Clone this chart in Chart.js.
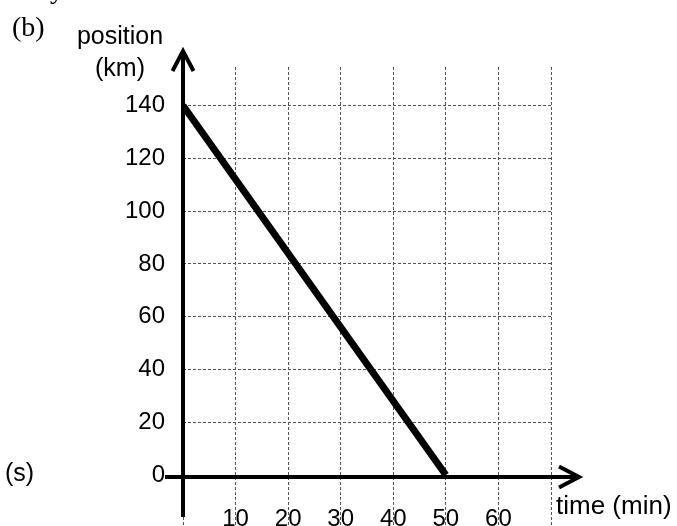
<!DOCTYPE html>
<html>
<head>
<meta charset="utf-8">
<script src="https://cdn.jsdelivr.net/npm/chart.js@4"></script>
<style>
  body { margin: 0; background: #fff; }
  #wrap { position: relative; width: 677px; height: 526px; overflow: hidden; }
  canvas { position: absolute; left: 0; top: 0; }
  .lbl { position: absolute; white-space: nowrap; color: #000; line-height: 1; }
  .sans { font-family: "Liberation Sans", Arial, sans-serif; font-size: 25px; }
  .serif { font-family: "Liberation Serif", "Times New Roman", serif; font-size: 28px; }
</style>
</head>
<body>
<div id="wrap">
  <canvas id="chart" width="677" height="526"></canvas>
  <div class="lbl serif" style="left:50px; top:-25px;">y</div>
  <div class="lbl serif" style="left:12px; top:13px;">(b)</div>
  <div class="lbl sans" style="left:20px; top:23px; width:200px; text-align:center;">position</div>
  <div class="lbl sans" style="left:20px; top:55px; width:200px; text-align:center;">(km)</div>
  <div class="lbl sans" style="left:5px; top:460px;">(s)</div>
  <div class="lbl sans" style="left:556px; top:492px; font-size:26px;">time (min)</div>
</div>
<script>
/* data */
const time = [0, 50];
const position = [140, 0];

const timeTicks = [0, 10, 20, 30, 40, 50, 60, 70];
const timeLabels = ["", "10", "20", "30", "40", "50", "60", ""];
const posTicks = [0, 20, 40, 60, 80, 100, 120, 140];
const posLabels = ["0", "20", "40", "60", "80", "100", "120", "140"];

const tickFont = { family: "'Liberation Sans', Arial, sans-serif", size: 24 };
const gridStyle = { color: "#555", lineWidth: 1, drawTicks: false };
const gridBorder = { display: false, dash: [3, 2] };

/* thick axes with open arrowheads */
const axisArrows = {
  id: "axisArrows",
  afterDraw(chart) {
    const ctx = chart.ctx;
    const area = chart.chartArea;
    const xs = chart.scales.x;
    const ys = chart.scales.y;
    const x0 = xs.getPixelForValue(0);
    const y0 = ys.getPixelForValue(0) + 2;
    ctx.save();
    ctx.strokeStyle = "#000";
    ctx.lineWidth = 4;
    ctx.lineCap = "butt";
    ctx.lineJoin = "miter";

    // horizontal axis
    const xTip = area.right + 28;
    ctx.beginPath();
    ctx.moveTo(x0 - 18, y0);
    ctx.lineTo(xTip - 2, y0);
    ctx.stroke();
    ctx.beginPath();
    ctx.moveTo(xTip - 20, y0 - 10.5);
    ctx.lineTo(xTip, y0);
    ctx.lineTo(xTip - 20, y0 + 10.5);
    ctx.stroke();

    // vertical axis
    const yTip = area.top - 16;
    ctx.beginPath();
    ctx.moveTo(x0, y0 + 40);
    ctx.lineTo(x0, yTip + 2);
    ctx.stroke();
    ctx.beginPath();
    ctx.moveTo(x0 - 10.5, yTip + 20);
    ctx.lineTo(x0, yTip);
    ctx.lineTo(x0 + 10.5, yTip + 20);
    ctx.stroke();
    ctx.restore();
  }
};

const ctx = document.getElementById("chart").getContext("2d");
new Chart(ctx, {
  type: "line",
  data: {
    datasets: [
      {
        data: time.map((t, i) => ({ x: t, y: position[i] })),
        borderColor: "#000",
        borderWidth: 7,
        pointRadius: 0,
        fill: false,
        tension: 0
      }
    ]
  },
  options: {
    responsive: false,
    animation: false,
    layout: { padding: { left: 123, right: 126, top: 67, bottom: 0 } },
    plugins: { legend: { display: false }, tooltip: { enabled: false } },
    scales: {
      x: {
        type: "linear",
        position: { y: 0 },
        min: 0,
        max: 70,
        border: gridBorder,
        grid: gridStyle,
        afterBuildTicks: (s) => { s.ticks = timeTicks.map((v) => ({ value: v })); },
        afterFit: (s) => { s.paddingLeft = 0; s.paddingRight = 0; },
        ticks: {
          color: "#000",
          font: tickFont,
          padding: 30,
          maxRotation: 0,
          autoSkip: false,
          callback: (v) => timeLabels[timeTicks.indexOf(v)]
        }
      },
      y: {
        type: "linear",
        position: "left",
        min: -19.3,
        max: 154.6,
        border: gridBorder,
        grid: gridStyle,
        afterBuildTicks: (s) => { s.ticks = posTicks.map((v) => ({ value: v })); },
        afterFit: (s) => { s.width = 60; s.paddingTop = 0; s.paddingBottom = 0; },
        ticks: {
          color: "#000",
          font: tickFont,
          padding: 18,
          autoSkip: false,
          callback: (v) => posLabels[posTicks.indexOf(v)]
        }
      }
    }
  },
  plugins: [axisArrows]
});
</script>
</body>
</html>
